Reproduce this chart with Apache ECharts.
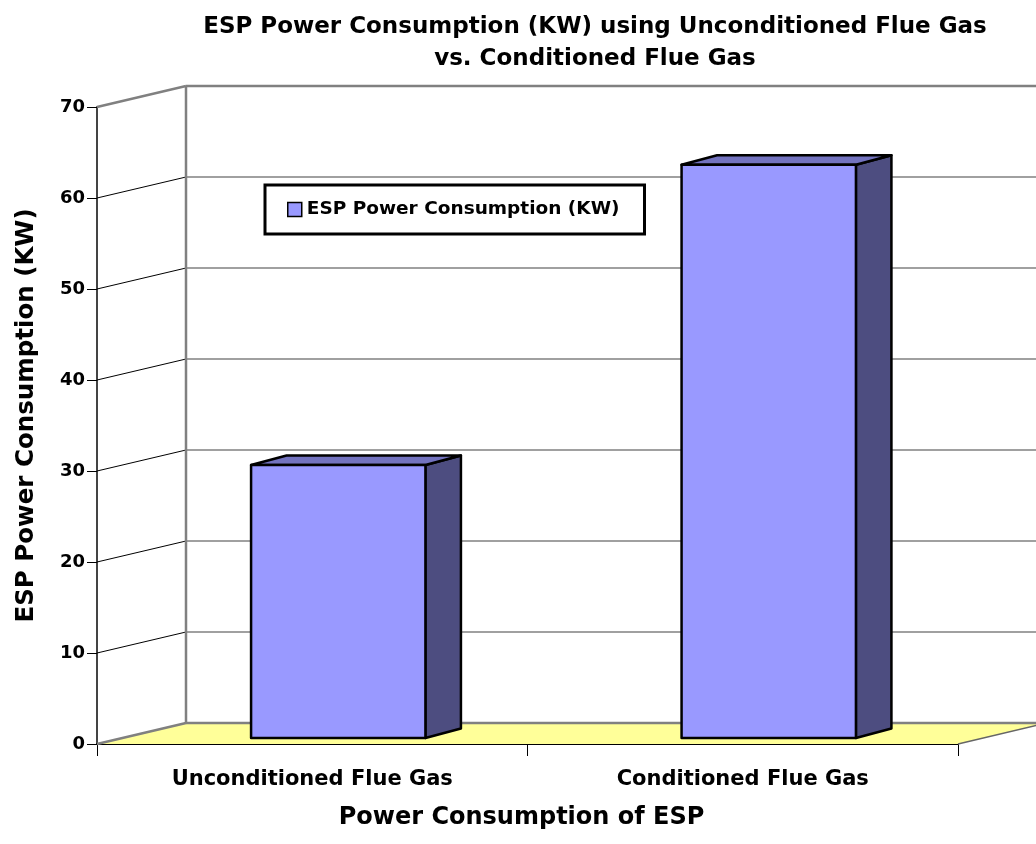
<!DOCTYPE html>
<html>
<head>
<meta charset="utf-8">
<script src="https://cdn.jsdelivr.net/npm/echarts@6/dist/echarts.min.js"></script>
<style>
html,body{margin:0;padding:0;background:#fff;}
#chart{width:1036px;height:844px;}
</style>
</head>
<body>
<div id="chart"></div>
<script>
const categories = ['Unconditioned Flue Gas', 'Conditioned Flue Gas'];
const powerKW = [30, 63];
const yTicks = [0, 10, 20, 30, 40, 50, 60, 70];
const seriesName = 'ESP Power Consumption (KW)';
const titleLines = ['ESP Power Consumption (KW) using Unconditioned Flue Gas', 'vs. Conditioned Flue Gas'];
const yAxisTitle = 'ESP Power Consumption (KW)';
const xAxisTitle = 'Power Consumption of ESP';

const FONT = '"DejaVu Sans", "Liberation Sans", Arial, sans-serif';
// 3D projection offsets (px)
const WALL_DX = 89, WALL_DY = -21;   // back wall
const BAR_FX = 26, BAR_FY = -6;      // bar front face
const BAR_DX = 35.5, BAR_DY = -9.5;  // bar depth
const BAR_W = 0.405;                 // fraction of band

const chart = echarts.init(document.getElementById('chart'), null, {renderer: 'canvas'});

function frameItem(params, api) {
  const v = api.value(1);
  const p = api.coord([0, v]);
  const band = api.size([1, 0])[0];
  const left = p[0] - band / 2;
  const right = left + band * categories.length;
  const y = p[1];
  const children = [];
  const gray = '#808080';
  const maxV = yTicks[yTicks.length - 1];
  if (v === 0) {
    children.push({type: 'polygon', shape: {points: [[left, y], [left + WALL_DX, y + WALL_DY], [right + WALL_DX, y + WALL_DY], [right, y]]},
      style: {fill: '#ffff99', stroke: null}});
    children.push({type: 'line', shape: {x1: right, y1: y, x2: right + WALL_DX, y2: y + WALL_DY}, style: {stroke: '#666', lineWidth: 1.5}});
  }
  children.push({type: 'line', shape: {x1: left + WALL_DX, y1: y + WALL_DY, x2: right + WALL_DX, y2: y + WALL_DY},
    style: {stroke: gray, lineWidth: (v === maxV || v === 0) ? 2.5 : 1.5}});
  const edge = (v === maxV || v === 0);
  children.push({type: 'line', shape: {x1: left, y1: y, x2: left + WALL_DX, y2: y + WALL_DY},
    style: {stroke: edge ? gray : '#000', lineWidth: edge ? 2.5 : 1}});
  if (v === maxV) {
    const y0 = api.coord([0, 0])[1];
    children.push({type: 'line', shape: {x1: left + WALL_DX, y1: y + WALL_DY, x2: left + WALL_DX, y2: y0 + WALL_DY},
      style: {stroke: gray, lineWidth: 2.5}});
  }
  return {type: 'group', children: children};
}

function barItem(params, api) {
  const idx = api.value(0);
  const val = api.value(1);
  const top = api.coord([idx, val]);
  const base = api.coord([idx, 0]);
  const band = api.size([1, 0])[0];
  const w = band * BAR_W;
  const xl = top[0] - w / 2 + BAR_FX, xr = top[0] + w / 2 + BAR_FX;
  const yt = top[1] + BAR_FY, yb = base[1] + BAR_FY;
  const st = {stroke: '#000', lineWidth: 2.5, lineJoin: 'round'};
  return {type: 'group', children: [
    {type: 'polygon', shape: {points: [[xr, yt], [xr + BAR_DX, yt + BAR_DY], [xr + BAR_DX, yb + BAR_DY], [xr, yb]]},
      style: Object.assign({fill: '#4d4d80'}, st)},
    {type: 'polygon', shape: {points: [[xl, yt], [xl + BAR_DX, yt + BAR_DY], [xr + BAR_DX, yt + BAR_DY], [xr, yt]]},
      style: Object.assign({fill: '#7373bf'}, st)},
    {type: 'rect', shape: {x: xl, y: yt, width: xr - xl, height: yb - yt},
      style: Object.assign({fill: '#9999ff'}, st)}
  ]};
}

const option = {
  backgroundColor: '#ffffff',
  animation: false,
  title: {
    text: titleLines.join('\n'),
    left: 590, top: 6, textAlign: 'center',
    textStyle: {fontFamily: FONT, fontWeight: 'bold', fontSize: 23, lineHeight: 32, color: '#000'}
  },
  legend: {
    data: [seriesName],
    left: 265, top: 185,
    orient: 'horizontal',
    padding: [15, 25, 15, 22],
    borderColor: '#000', borderWidth: 3,
    backgroundColor: '#fff',
    icon: 'rect', itemWidth: 14, itemHeight: 14, itemGap: 6,
    itemStyle: {color: '#9999ff', borderColor: '#000', borderWidth: 1.5},
    textStyle: {fontFamily: FONT, fontWeight: 'bold', fontSize: 18.5, color: '#000'},
    selectedMode: false
  },
  grid: {left: 97, right: 78, top: 107, bottom: 100, containLabel: false},
  xAxis: {
    type: 'category', data: categories,
    axisLine: {show: true, lineStyle: {color: '#000', width: 2}},
    axisTick: {show: true, length: 12, lineStyle: {color: '#000', width: 1}},
    axisLabel: {margin: 25, fontFamily: FONT, fontWeight: 'bold', fontSize: 21, color: '#000'},
    splitLine: {show: false},
    name: xAxisTitle, nameLocation: 'middle', nameGap: 62,
    nameTextStyle: {fontFamily: FONT, fontWeight: 'bold', fontSize: 24, color: '#000', padding: [0, 12, 0, 0]}
  },
  yAxis: {
    type: 'value', min: 0, max: 70, interval: 10,
    axisLine: {show: true, lineStyle: {color: '#444', width: 2}},
    axisTick: {show: true, length: 10, lineStyle: {color: '#000', width: 1}},
    axisLabel: {margin: 12, fontFamily: FONT, fontWeight: 'bold', fontSize: 18, color: '#000'},
    splitLine: {show: false},
    name: yAxisTitle, nameLocation: 'middle', nameRotate: 90, nameGap: 58,
    nameTextStyle: {fontFamily: FONT, fontWeight: 'bold', fontSize: 24.5, color: '#000', padding: [0, 0, 0, 20]}
  },
  series: [
    {
      name: 'frame', type: 'custom', z: 1, clip: false, silent: true,
      renderItem: frameItem,
      encode: {x: 0, y: 1},
      data: yTicks.map(v => [0, v])
    },
    {
      name: seriesName, type: 'custom', z: 3, clip: false,
      itemStyle: {color: '#9999ff', borderColor: '#000', borderWidth: 1.5},
      renderItem: barItem,
      encode: {x: 0, y: 1},
      data: powerKW.map((v, i) => [i, v])
    }
  ]
};
chart.setOption(option);
</script>
</body>
</html>
